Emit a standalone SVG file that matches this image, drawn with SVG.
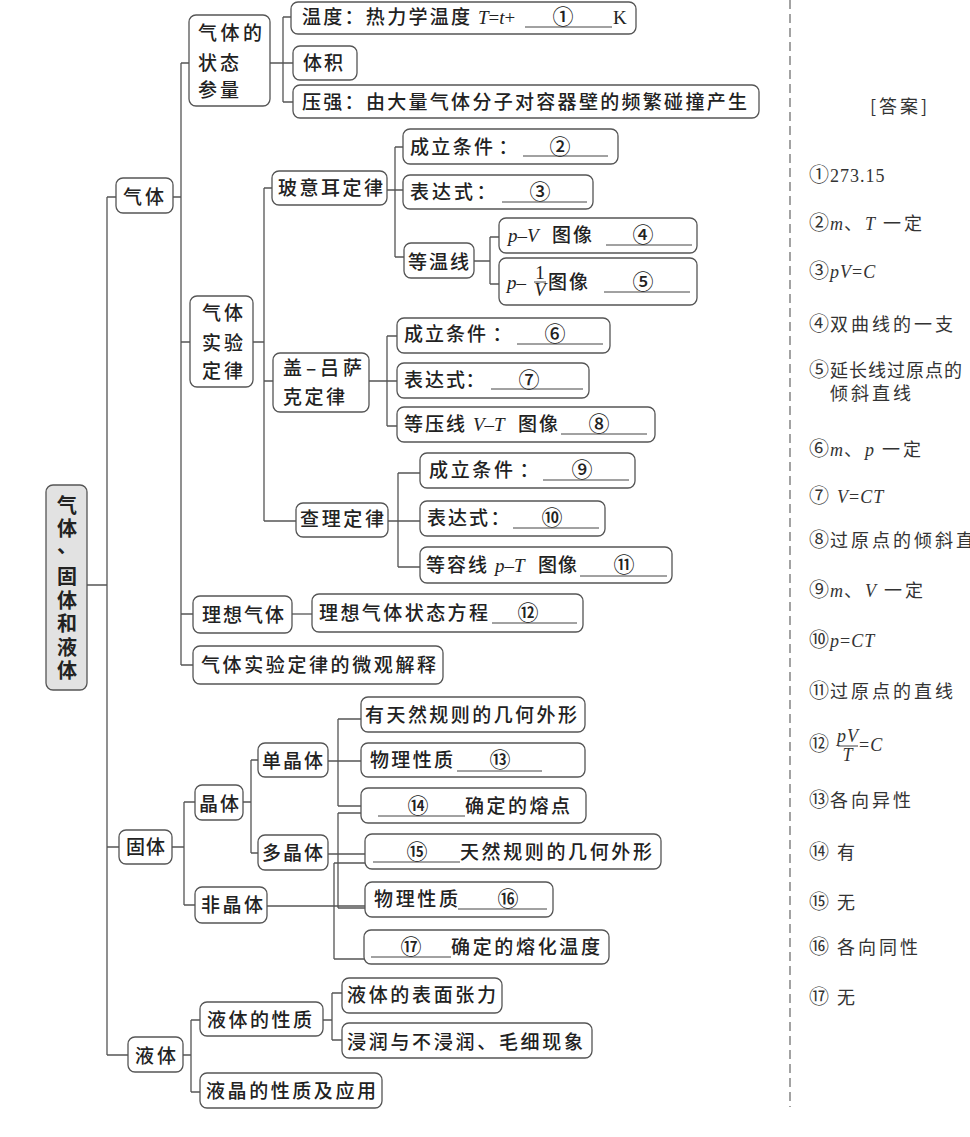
<svg xmlns="http://www.w3.org/2000/svg" width="970" height="1137" viewBox="0 0 970 1137">
<style>
.box{fill:#fff;stroke:#555;stroke-width:1.3}
.root{fill:#e2e2e2;stroke:#555;stroke-width:1.3}
.t{font-family:"Noto Sans CJK SC","Noto Sans",sans-serif;font-size:19px;fill:#222;font-weight:500}
.rt{font-family:"Noto Sans CJK SC","Noto Sans",sans-serif;font-size:20px;fill:#222;font-weight:600;text-anchor:middle}
.i{font-family:"Liberation Serif",serif;font-style:italic;font-weight:normal}
.s{font-family:"Liberation Serif",serif;font-weight:normal}
.m{text-anchor:middle}
.n{font-size:21px}
.u{stroke:#444;stroke-width:1}
.c{fill:none;stroke:#555;stroke-width:1.3}
.a{font-family:"Noto Sans CJK SC",sans-serif;font-size:18px;fill:#333;letter-spacing:3px}
.an{font-size:20px;letter-spacing:1px}
.ai{font-family:"Liberation Serif",serif;font-style:italic;letter-spacing:1px}
.as{font-family:"Liberation Serif",serif;letter-spacing:1px}
.dash{stroke:#666;stroke-width:1.2;stroke-dasharray:9 5}
</style>

<g id="connectors">
<path class="c" d="M87 585H107M107 197V1055M107 197H116M107 847H119M107 1055H128"/>
<path class="c" d="M173 197H181M181 63V665M181 63H189M181 342H190M181 614H193M181 665H193"/>
<path class="c" d="M270 63H283M283 17V102M283 17H291M283 63H293M283 102H293"/>
<path class="c" d="M253 342H264M264 188V521M264 188H272M264 381H273M264 521H296"/>
<path class="c" d="M387 190H395M395 147V257M395 147H403M395 190H403M395 257H404"/>
<path class="c" d="M474 261H490M490 237V284M490 237H499M490 284H499"/>
<path class="c" d="M369 381H387M387 336V426M387 336H397M387 381H397M387 426H397"/>
<path class="c" d="M388 521H398M398 473V567M398 473H420M398 521H420M398 567H420"/>
<path class="c" d="M292 614H312"/>
<path class="c" d="M172 847H184M184 802V905M184 802H195M184 905H195"/>
<path class="c" d="M243 802H251M251 760V853M251 760H258M251 853H258"/>
<path class="c" d="M328 761H338M338 719V806M338 719H361M338 761H361M338 806H361"/>
<path class="c" d="M328 854H338M338 813V908M338 813H361M338 854H365M338 908H365"/>
<path class="c" d="M267 906H365M334 863V959M334 863H365M334 959H364"/>
<path class="c" d="M183 1055H191M191 1020V1092M191 1020H200M191 1092H200"/>
<path class="c" d="M323 1020H332M332 993V1040M332 993H342M332 1040H342"/>
</g>

<g id="root">
<rect class="root" x="46" y="485" width="41" height="205" rx="7"/>
<text class="rt"><tspan x="67" y="513">气</tspan><tspan x="67" y="536">体</tspan><tspan x="67" y="553">、</tspan><tspan x="67" y="584">固</tspan><tspan x="67" y="608">体</tspan><tspan x="67" y="631">和</tspan><tspan x="67" y="655">液</tspan><tspan x="67" y="678">体</tspan></text>
</g>

<g id="gas">
<rect class="box" x="116" y="178" width="57" height="35" rx="7"/>
<text class="t" x="123" y="204" textLength="41">气体</text>
</g>

<g id="state-params">
<rect class="box" x="189" y="15" width="81" height="91" rx="7"/>
<text class="t" x="198" y="40" textLength="64">气体的</text>
<text class="t" x="198" y="70" textLength="41">状态</text>
<text class="t" x="198" y="97" textLength="41">参量</text>
</g>

<g id="temperature">
<rect class="box" x="291" y="2" width="345" height="32" rx="7"/>
<text class="t" x="302" y="24" textLength="168">温度：热力学温度</text>
<text class="t" x="478" y="24" font-size="20"><tspan class="i">T</tspan><tspan class="s">=</tspan><tspan class="i">t</tspan><tspan class="s">+</tspan></text>
<line class="u" x1="525" y1="27" x2="612" y2="27"/>
<text class="t m n" x="563" y="24">①</text>
<text class="t s" x="613" y="24">K</text>
</g>

<g id="volume">
<rect class="box" x="293" y="46" width="64" height="34" rx="7"/>
<text class="t" x="303" y="70" textLength="40">体积</text>
</g>

<g id="pressure">
<rect class="box" x="293" y="85" width="466" height="33" rx="7"/>
<text class="t" x="302" y="109" textLength="445">压强：由大量气体分子对容器壁的频繁碰撞产生</text>
</g>

<g id="exp-laws">
<rect class="box" x="190" y="296" width="63" height="91" rx="7"/>
<text class="t" x="202" y="320" textLength="41">气体</text>
<text class="t" x="202" y="350" textLength="41">实验</text>
<text class="t" x="202" y="378" textLength="41">定律</text>
</g>

<g id="boyle">
<rect class="box" x="272" y="171" width="115" height="34" rx="7"/>
<text class="t" x="278" y="195" textLength="105">玻意耳定律</text>
</g>

<g id="boyle-cond">
<rect class="box" x="403" y="129" width="215" height="35" rx="7"/>
<text class="t" x="410" y="154" textLength="83">成立条件</text>
<text class="t m" x="508" y="154">：</text>
<line class="u" x1="523" y1="156" x2="608" y2="156"/>
<text class="t m n" x="560" y="154">②</text>
</g>

<g id="boyle-expr">
<rect class="box" x="403" y="175" width="190" height="34" rx="7"/>
<text class="t" x="410" y="199" textLength="63">表达式</text>
<text class="t m" x="486" y="199">：</text>
<line class="u" x1="502" y1="202" x2="587" y2="202"/>
<text class="t m n" x="540" y="199">③</text>
</g>

<g id="isotherm">
<rect class="box" x="404" y="243" width="70" height="35" rx="7"/>
<text class="t" x="408" y="269" textLength="61">等温线</text>
</g>

<g id="pV-graph">
<rect class="box" x="499" y="218" width="198" height="35" rx="7"/>
<text class="t" x="508" y="242"><tspan class="i">p</tspan><tspan class="s">–</tspan><tspan class="i">V</tspan></text>
<text class="t" x="552" y="242" textLength="40">图像</text>
<line class="u" x1="606" y1="245" x2="692" y2="245"/>
<text class="t m n" x="643" y="242">④</text>
</g>

<g id="p-invV-graph">
<rect class="box" x="499" y="258" width="198" height="47" rx="7"/>
<text class="t" x="507" y="289"><tspan class="i">p</tspan><tspan class="s">–</tspan></text>
<text class="t s m" x="540" y="279" font-size="15">1</text>
<line class="u" x1="534" y1="282" x2="546" y2="282"/>
<text class="t i m" x="540" y="296" font-size="15">V</text>
<text class="t" x="548" y="289" textLength="40">图像</text>
<line class="u" x1="604" y1="292" x2="690" y2="292"/>
<text class="t m n" x="643" y="289">⑤</text>
</g>

<g id="gay-lussac">
<rect class="box" x="273" y="353" width="96" height="59" rx="7"/>
<text class="t" x="283" y="375" textLength="79">盖–吕萨</text>
<text class="t" x="283" y="404" textLength="62">克定律</text>
</g>

<g id="gl-cond">
<rect class="box" x="397" y="318" width="213" height="35" rx="7"/>
<text class="t" x="404" y="341" textLength="82">成立条件</text>
<text class="t m" x="502" y="341">：</text>
<line class="u" x1="517" y1="344" x2="603" y2="344"/>
<text class="t m n" x="555" y="341">⑥</text>
</g>

<g id="gl-expr">
<rect class="box" x="397" y="363" width="192" height="35" rx="7"/>
<text class="t" x="404" y="387" textLength="61">表达式</text>
<text class="t m" x="475" y="387">：</text>
<line class="u" x1="491" y1="389" x2="583" y2="389"/>
<text class="t m n" x="529" y="387">⑦</text>
</g>

<g id="isobar">
<rect class="box" x="397" y="407" width="258" height="35" rx="7"/>
<text class="t" x="404" y="431" textLength="61">等压线</text>
<text class="t" x="473" y="431"><tspan class="i">V</tspan><tspan class="s">–</tspan><tspan class="i">T</tspan></text>
<text class="t" x="518" y="431" textLength="40">图像</text>
<line class="u" x1="561" y1="434" x2="647" y2="434"/>
<text class="t m n" x="599" y="431">⑧</text>
</g>

<g id="charles">
<rect class="box" x="296" y="503" width="92" height="34" rx="7"/>
<text class="t" x="300" y="526" textLength="84">查理定律</text>
</g>

<g id="ch-cond">
<rect class="box" x="420" y="453" width="215" height="35" rx="7"/>
<text class="t" x="429" y="477" textLength="84">成立条件</text>
<text class="t m" x="529" y="477">：</text>
<line class="u" x1="543" y1="480" x2="629" y2="480"/>
<text class="t m n" x="582" y="477">⑨</text>
</g>

<g id="ch-expr">
<rect class="box" x="420" y="501" width="185" height="35" rx="7"/>
<text class="t" x="427" y="525" textLength="61">表达式</text>
<text class="t m" x="500" y="525">：</text>
<line class="u" x1="513" y1="528" x2="599" y2="528"/>
<text class="t m n" x="552" y="525">⑩</text>
</g>

<g id="isochore">
<rect class="box" x="420" y="547" width="252" height="36" rx="7"/>
<text class="t" x="426" y="572" textLength="61">等容线</text>
<text class="t" x="495" y="572"><tspan class="i">p</tspan><tspan class="s">–</tspan><tspan class="i">T</tspan></text>
<text class="t" x="538" y="572" textLength="39">图像</text>
<line class="u" x1="580" y1="576" x2="667" y2="576"/>
<text class="t m n" x="624" y="572">⑪</text>
</g>

<g id="ideal-gas">
<rect class="box" x="193" y="596" width="99" height="37" rx="7"/>
<text class="t" x="202" y="622" textLength="82">理想气体</text>
</g>

<g id="ideal-eq">
<rect class="box" x="312" y="594" width="271" height="38" rx="7"/>
<text class="t" x="319" y="620" textLength="169">理想气体状态方程</text>
<line class="u" x1="492" y1="623" x2="577" y2="623"/>
<text class="t m n" x="528" y="620">⑫</text>
</g>

<g id="micro">
<rect class="box" x="193" y="646" width="250" height="38" rx="7"/>
<text class="t" x="201" y="672" textLength="235">气体实验定律的微观解释</text>
</g>

<g id="solid">
<rect class="box" x="119" y="830" width="53" height="34" rx="7"/>
<text class="t" x="126" y="854" textLength="39">固体</text>
</g>

<g id="crystal">
<rect class="box" x="195" y="785" width="48" height="35" rx="7"/>
<text class="t" x="199" y="811" textLength="40">晶体</text>
</g>

<g id="amorphous">
<rect class="box" x="195" y="887" width="72" height="36" rx="7"/>
<text class="t" x="201" y="912" textLength="62">非晶体</text>
</g>

<g id="single-crystal">
<rect class="box" x="258" y="743" width="70" height="34" rx="7"/>
<text class="t" x="262" y="768" textLength="61">单晶体</text>
</g>

<g id="poly-crystal">
<rect class="box" x="258" y="835" width="70" height="35" rx="7"/>
<text class="t" x="262" y="860" textLength="61">多晶体</text>
</g>

<g id="regular-shape">
<rect class="box" x="361" y="697" width="224" height="35" rx="7"/>
<text class="t" x="365" y="722" textLength="212">有天然规则的几何外形</text>
</g>

<g id="phys13">
<rect class="box" x="361" y="743" width="224" height="34" rx="7"/>
<text class="t" x="370" y="767" textLength="83">物理性质</text>
<line class="u" x1="457" y1="771" x2="542" y2="771"/>
<text class="t m n" x="500" y="767">⑬</text>
</g>

<g id="melt14">
<rect class="box" x="361" y="788" width="225" height="35" rx="7"/>
<line class="u" x1="378" y1="816" x2="465" y2="816"/>
<text class="t m n" x="418" y="813">⑭</text>
<text class="t" x="465" y="813" textLength="105">确定的熔点</text>
</g>

<g id="shape15">
<rect class="box" x="365" y="834" width="296" height="35" rx="7"/>
<line class="u" x1="373" y1="862" x2="460" y2="862"/>
<text class="t m n" x="417" y="859">⑮</text>
<text class="t" x="460" y="859" textLength="192">天然规则的几何外形</text>
</g>

<g id="phys16">
<rect class="box" x="365" y="882" width="188" height="35" rx="7"/>
<text class="t" x="374" y="906" textLength="84">物理性质</text>
<line class="u" x1="458" y1="909" x2="547" y2="909"/>
<text class="t m n" x="508" y="906">⑯</text>
</g>

<g id="melt17">
<rect class="box" x="364" y="930" width="245" height="34" rx="7"/>
<line class="u" x1="371" y1="957" x2="451" y2="957"/>
<text class="t m n" x="411" y="954">⑰</text>
<text class="t" x="451" y="954" textLength="149">确定的熔化温度</text>
</g>

<g id="liquid">
<rect class="box" x="128" y="1037" width="55" height="35" rx="7"/>
<text class="t" x="135" y="1063" textLength="41">液体</text>
</g>

<g id="liquid-props">
<rect class="box" x="200" y="1002" width="123" height="34" rx="7"/>
<text class="t" x="207" y="1027" textLength="105">液体的性质</text>
</g>

<g id="liquid-crystal">
<rect class="box" x="200" y="1073" width="182" height="35" rx="7"/>
<text class="t" x="206" y="1098" textLength="170">液晶的性质及应用</text>
</g>

<g id="surface-tension">
<rect class="box" x="342" y="978" width="160" height="35" rx="7"/>
<text class="t" x="347" y="1002" textLength="149">液体的表面张力</text>
</g>

<g id="wetting">
<rect class="box" x="342" y="1023" width="250" height="35" rx="7"/>
<text class="t" x="347" y="1049" textLength="236">浸润与不浸润、毛细现象</text>
</g>

<g id="answers">
<line class="dash" x1="790" y1="0" x2="790" y2="1107"/>
<text class="a" x="900" y="113" text-anchor="middle">[答案]</text>
<text class="a" x="809" y="182"><tspan class="an">①</tspan><tspan class="as">273.15</tspan></text>
<text class="a" x="809" y="230"><tspan class="an">②</tspan><tspan class="ai">m</tspan>、<tspan class="ai">T</tspan> 一定</text>
<text class="a" x="809" y="278"><tspan class="an">③</tspan><tspan class="ai">pV</tspan><tspan class="as">=</tspan><tspan class="ai">C</tspan></text>
<text class="a" x="809" y="331"><tspan class="an">④</tspan>双曲线的一支</text>
<text class="a" x="809" y="377" style="letter-spacing:1px"><tspan class="an">⑤</tspan>延长线过原点的</text>
<text class="a" x="830" y="400">倾斜直线</text>
<text class="a" x="809" y="456"><tspan class="an">⑥</tspan><tspan class="ai">m</tspan>、<tspan class="ai">p</tspan> 一定</text>
<text class="a" x="809" y="503"><tspan class="an">⑦</tspan> <tspan class="ai">V</tspan><tspan class="as">=</tspan><tspan class="ai">CT</tspan></text>
<text class="a" x="809" y="547"><tspan class="an">⑧</tspan>过原点的倾斜直线</text>
<text class="a" x="809" y="597"><tspan class="an">⑨</tspan><tspan class="ai">m</tspan>、<tspan class="ai">V</tspan> 一定</text>
<text class="a" x="809" y="647"><tspan class="an">⑩</tspan><tspan class="ai">p</tspan><tspan class="as">=</tspan><tspan class="ai">CT</tspan></text>
<text class="a" x="809" y="698"><tspan class="an">⑪</tspan>过原点的直线</text>
<text class="a" x="809" y="751"><tspan class="an">⑫</tspan></text>
<text class="a ai" x="848" y="742" font-size="16" text-anchor="middle">pV</text>
<line class="u" x1="838" y1="746" x2="858" y2="746"/>
<text class="a ai" x="848" y="761" font-size="16" text-anchor="middle">T</text>
<text class="a" x="859" y="751"><tspan class="as">=</tspan><tspan class="ai">C</tspan></text>
<text class="a" x="809" y="807"><tspan class="an">⑬</tspan>各向异性</text>
<text class="a" x="809" y="859"><tspan class="an">⑭</tspan> 有</text>
<text class="a" x="809" y="909"><tspan class="an">⑮</tspan> 无</text>
<text class="a" x="809" y="954"><tspan class="an">⑯</tspan> 各向同性</text>
<text class="a" x="809" y="1004"><tspan class="an">⑰</tspan> 无</text>
</g>
</svg>
